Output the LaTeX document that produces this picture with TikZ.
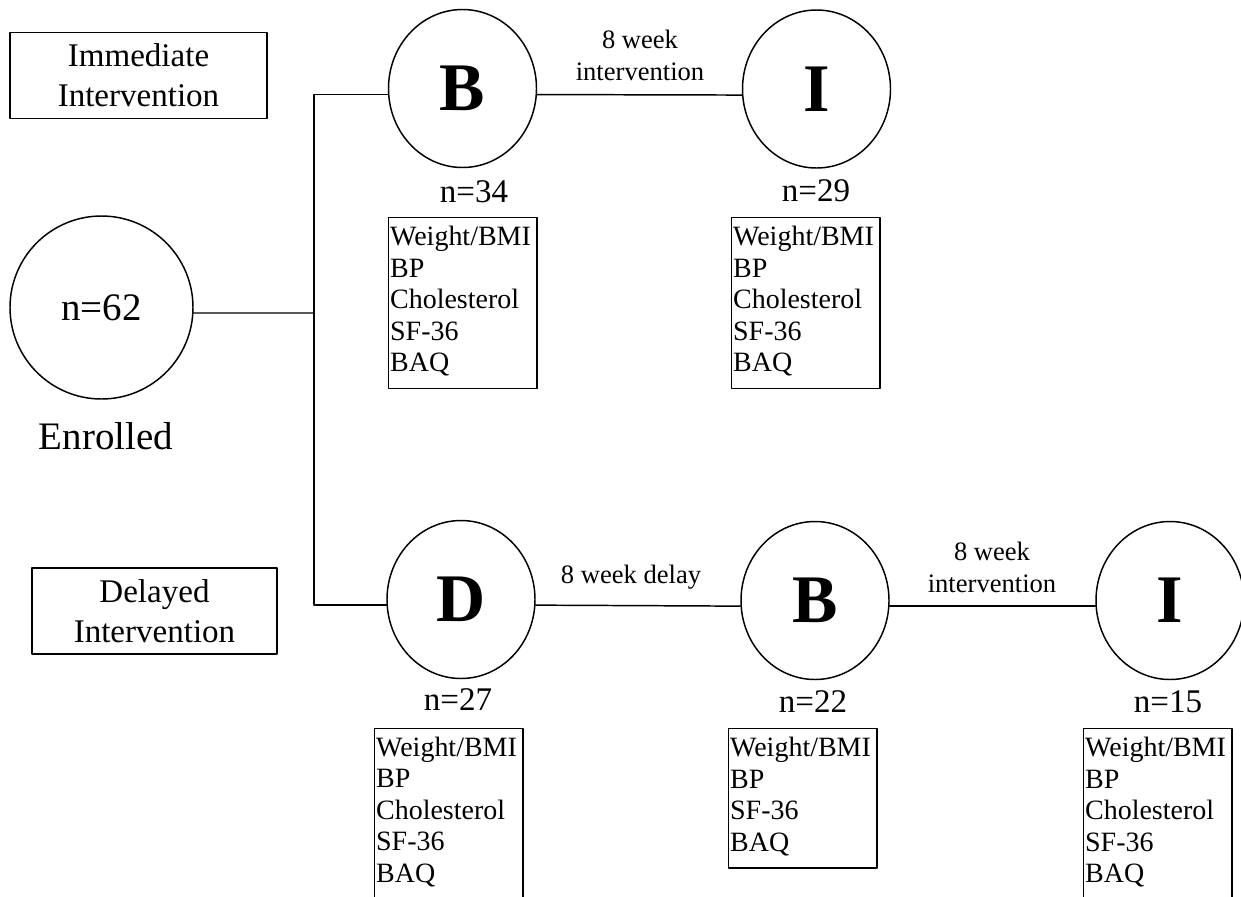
\documentclass[tikz,border=0pt]{standalone}
\usepackage{fontspec}
\setmainfont{Liberation Serif}
\usetikzlibrary{shapes.geometric}
\tikzset{
  every picture/.style={line join=round, line cap=round},
}
\newcommand{\mfirst}{\rule{0pt}{19.9pt}}
\newcommand{\mlast}{\rule[-12.1pt]{0pt}{12.1pt}}

\begin{document}
\begin{tikzpicture}[x=0.25mm,y=-0.25mm,line width=1.05pt,
  stage/.style={draw,ellipse,minimum width=37mm,minimum height=39.5mm,inner sep=0pt,font=\fontsize{48.4}{50}\selectfont\bfseries},
  meas/.style={draw,anchor=north west,align=left,text width=103.3pt,inner xsep=1pt,inner ysep=0pt,font=\fontsize{19.9}{22.4}\selectfont},
  group/.style={draw,align=center,minimum height=21.4mm,inner sep=0pt,font=\fontsize{23.5}{28.5}\selectfont},
  tag/.style={align=center,font=\fontsize{18.9}{22.8}\selectfont},
  count/.style={font=\fontsize{23.5}{25}\selectfont}]
\useasboundingbox (0,0) rectangle (1241,896);
\clip (0,0) rectangle (1241,896);

% groups
\node[group,minimum width=64.25mm] (imm) at (138.5,75.5) {Immediate\\Intervention};
\node[group,minimum width=61.25mm] (del) at (154.5,611) {Delayed\\Intervention};

% enrolled
\node[draw,circle,minimum size=45.75mm,inner sep=0pt,font=\fontsize{27.7}{30}\selectfont] (enr) at (101.5,307.5) {n=62};
\node[font=\fontsize{27.7}{30}\selectfont] (enrlab) at (106,436) {Enrolled};

% stages
\node[stage] (b1) at (462.5,88.5) {B};
\node[stage] (i1) at (816.5,89) {I};
\node[stage] (d2) at (461,599.5) {D};
\node[stage] (b2) at (815,600.5) {B};
\node[stage] (i2) at (1170,600.5) {I};

\node[count] (nb1) at (474,192) {n=34};
\node[count] (ni1) at (816,191) {n=29};
\node[count] (nd2) at (458,700) {n=27};
\node[count] (nb2) at (813,702) {n=22};
\node[count] (ni2) at (1168,702) {n=15};

% measures
\node[meas] (mb1) at (388,217) {\mfirst Weight/BMI\\BP\\Cholesterol\\SF-36\\BAQ\mlast};
\node[meas] (mi1) at (731,217) {\mfirst Weight/BMI\\BP\\Cholesterol\\SF-36\\BAQ\mlast};
\node[meas] (md2) at (374,727.5) {\mfirst Weight/BMI\\BP\\Cholesterol\\SF-36\\BAQ\mlast};
\node[meas] (mb2) at (728,728) {\mfirst Weight/BMI\\BP\\SF-36\\BAQ\mlast};
\node[meas] (mi2) at (1083,728) {\mfirst Weight/BMI\\BP\\Cholesterol\\SF-36\\BAQ\mlast};

% periods
\node[tag] (t1) at (640,55) {8 week\\intervention};
\node[tag] (t2) at (631,577) {8 week delay};
\node[tag] (t3) at (992,567) {8 week\\intervention};

% links
\coordinate (spine) at (314,313);
\draw ([yshift=-4.3pt]b1.west) -| (spine) |- ([yshift=-4pt]d2.west);
\draw ([yshift=-3.9pt]enr.east) -- (spine);
\draw ([yshift=-4.3pt]b1.east) -- ([yshift=-4.3pt]i1.west);
\draw ([yshift=-4pt]d2.east) -- ([yshift=-4pt]b2.west);
\draw ([yshift=-4pt]b2.east) -- ([yshift=-4pt]i2.west);
\end{tikzpicture}
\end{document}
